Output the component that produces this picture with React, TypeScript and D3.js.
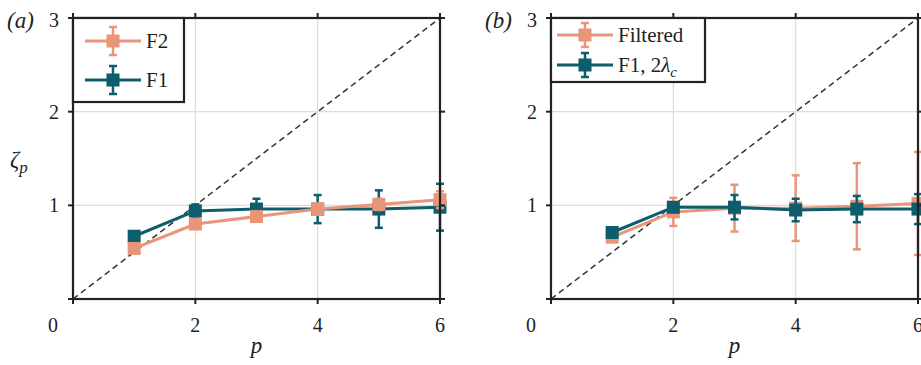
import React from "react";
import * as d3 from "d3";

// p values shared by both panels
const pValues = [1, 2, 3, 4, 5, 6];

// panel (a)
const f2Values = [0.54, 0.8, 0.88, 0.96, 1.01, 1.06];
const f2Errors = [0.02, 0.03, 0.04, 0.06, 0.06, 0.09];
const f1Values = [0.67, 0.94, 0.96, 0.96, 0.96, 0.98];
const f1Errors = [0.02, 0.07, 0.11, 0.15, 0.2, 0.25];

// panel (b)
const filteredValues = [0.66, 0.93, 0.97, 0.97, 0.99, 1.02];
const filteredErrors = [0.02, 0.15, 0.25, 0.35, 0.46, 0.55];
const f1LambdaValues = [0.71, 0.98, 0.98, 0.95, 0.96, 0.96];
const f1LambdaErrors = [0.02, 0.05, 0.13, 0.12, 0.14, 0.16];

const xTicks = [2, 4, 6];
const yTicks = [1, 2, 3];

const colorSalmon = "#e8957a";
const colorTeal = "#0d5d6c";
const serif = "Liberation Serif";

type Series = { values: number[]; errors: number[]; color: string; label: React.ReactNode };

// text in the figure's serif face
function T({ size = 20, italic = false, children, ...rest }: any) {
  return (
    <text fontFamily={serif} fontSize={size} fontStyle={italic ? "italic" : "normal"} fill="#222" {...rest}>
      {children}
    </text>
  );
}

function Panel({ left, tag, series, order, legendW, legendH, legendRow, legendPad, legendBar }: any) {
  const x = d3.scaleLinear().domain([0, 6]).range([left, left + 367]);
  const y = d3.scaleLinear().domain([0, 3]).range([299, 18]);
  const line = d3
    .line<number>()
    .x((d, i) => x(pValues[i]))
    .y((d) => y(d));

  const tick = 5;
  const [x0, x1] = x.range();
  const [y0, y1] = y.range();

  const drawSeries = (s: Series, key: string) => (
    <g key={key}>
      <path d={line(s.values) || ""} fill="none" stroke={s.color} strokeWidth={3} />
      {s.values.map((v, i) => {
        const cx = x(pValues[i]);
        const top = y(v + s.errors[i]);
        const bot = y(v - s.errors[i]);
        return (
          <g key={i} stroke={s.color} strokeWidth={2.5}>
            <line x1={cx} x2={cx} y1={top} y2={bot} />
            <line x1={cx - 4} x2={cx + 4} y1={top} y2={top} />
            <line x1={cx - 4} x2={cx + 4} y1={bot} y2={bot} />
            <rect x={cx - 6.5} y={y(v) - 6.5} width={13} height={13} fill={s.color} stroke="none" />
          </g>
        );
      })}
    </g>
  );

  return (
    <g>
      {/* grid */}
      {xTicks.slice(0, 2).map((t) => (
        <line key={"gx" + t} x1={x(t)} x2={x(t)} y1={y0} y2={y1} stroke="#dcdcdc" strokeWidth={1.2} />
      ))}
      {yTicks.slice(0, 2).map((t) => (
        <line key={"gy" + t} x1={x0} x2={x1} y1={y(t)} y2={y(t)} stroke="#dcdcdc" strokeWidth={1.2} />
      ))}
      {/* reference line */}
      <line x1={x(0)} y1={y(0)} x2={x(6)} y2={y(3)} stroke="#333" strokeWidth={1.5} strokeDasharray="6,4" />
      {order.map((s: Series, i: number) => drawSeries(s, "s" + i))}
      {/* frame and ticks */}
      <rect x={x0} y={y1} width={x1 - x0} height={y0 - y1} fill="none" stroke="#222" strokeWidth={2.2} />
      {[0, ...xTicks].map((t) => (
        <g key={"tx" + t} stroke="#222" strokeWidth={2}>
          <line x1={x(t)} x2={x(t)} y1={y0} y2={y0 + tick} />
          <line x1={x(t)} x2={x(t)} y1={y1} y2={y1 - tick} />
        </g>
      ))}
      {[0, ...yTicks].map((t) => (
        <g key={"ty" + t} stroke="#222" strokeWidth={2}>
          <line x1={x0 - tick} x2={x0} y1={y(t)} y2={y(t)} />
          <line x1={x1} x2={x1 + tick} y1={y(t)} y2={y(t)} />
        </g>
      ))}
      {xTicks.map((t) => (
        <T key={"lx" + t} x={x(t)} y={332} textAnchor="middle">
          {t}
        </T>
      ))}
      <T x={x0 - 20} y={332} textAnchor="middle">0</T>
      {yTicks.map((t) => (
        <T key={"ly" + t} x={x0 - 14} y={y(t) + (t === 3 ? 9 : 7)} textAnchor="end">
          {t}
        </T>
      ))}
      {/* labels */}
      <T x={left - 66} y={28} italic size={23}>
        ({tag})
      </T>
      <T x={(x0 + x1) / 2} y={353} textAnchor="middle" italic size={23}>p</T>
      {tag === "a" && (
        <T x={10} y={167} italic size={23}>
          ζ<tspan fontSize={17} dy={6}>p</tspan>
        </T>
      )}
      {/* legend */}
      <rect x={x0} y={y1} width={legendW} height={legendH} fill="#fff" stroke="#222" strokeWidth={2.2} />
      {series.map((s: Series, i: number) => {
        const ly = legendRow[i];
        const lx = x0 + legendPad;
        const mx = lx + 28;
        return (
          <g key={"lg" + i}>
            <g stroke={s.color} strokeWidth={2.5}>
              <line x1={lx} x2={lx + 56} y1={ly} y2={ly} strokeWidth={3} />
              <line x1={mx} x2={mx} y1={ly - legendBar} y2={ly + legendBar} />
              <line x1={mx - 4} x2={mx + 4} y1={ly - legendBar} y2={ly - legendBar} />
              <line x1={mx - 4} x2={mx + 4} y1={ly + legendBar} y2={ly + legendBar} />
              <rect x={mx - 6.5} y={ly - 6.5} width={13} height={13} fill={s.color} stroke="none" />
            </g>
            <T x={lx + 61} y={ly + 7} size={21}>{s.label}</T>
          </g>
        );
      })}
    </g>
  );
}

export default function App() {
  const f2: Series = { values: f2Values, errors: f2Errors, color: colorSalmon, label: "F2" };
  const f1: Series = { values: f1Values, errors: f1Errors, color: colorTeal, label: "F1" };
  const filt: Series = { values: filteredValues, errors: filteredErrors, color: colorSalmon, label: "Filtered" };
  const f1l: Series = {
    values: f1LambdaValues,
    errors: f1LambdaErrors,
    color: colorTeal,
    label: (
      <>
        F1, 2<tspan fontStyle="italic">λ</tspan>
        <tspan fontStyle="italic" fontSize={15} dy={5}>c</tspan>
      </>
    ),
  };
  return (
    <svg width={921} height={365} style={{ position: "absolute", left: 0, top: 0, background: "#fff" }}>
      <Panel left={73} tag="a" series={[f2, f1]} order={[f1, f2]} legendW={111} legendH={84}
        legendRow={[41, 80]} legendPad={12} legendBar={14} />
      <Panel left={551} tag="b" series={[filt, f1l]} order={[filt, f1l]} legendW={154} legendH={64}
        legendRow={[35, 65]} legendPad={6} legendBar={12} />
    </svg>
  );
}
